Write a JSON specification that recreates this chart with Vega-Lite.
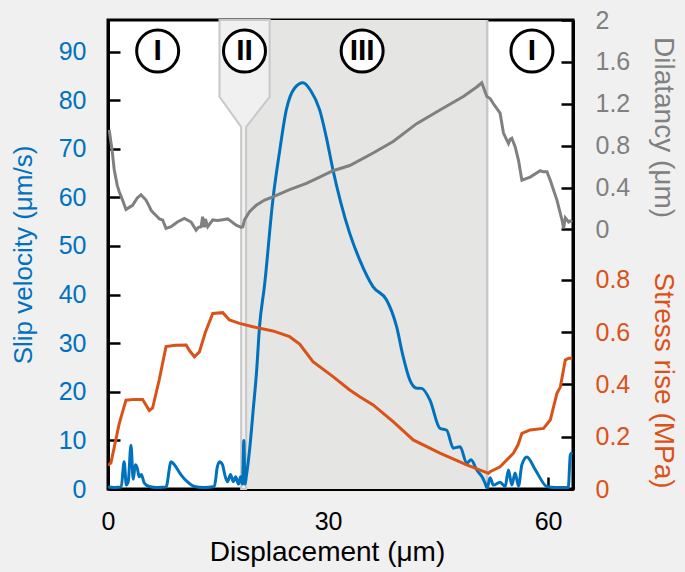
{
  "$schema": "https://vega.github.io/schema/vega-lite/v6.json",
  "width": 465,
  "height": 469,
  "autosize": {"type": "none"},
  "padding": {"left": 108, "top": 20, "right": 112, "bottom": 83},
  "background": "#f0f0f0",
  "config": {
    "view": {"stroke": "black", "strokeWidth": 3, "fill": "white"},
    "font": "Liberation Sans",
    "axis": {
      "labelFont": "Liberation Sans",
      "labelFontSize": 25,
      "titleFont": "Liberation Sans",
      "titleFontSize": 26,
      "titleFontWeight": "normal",
      "tickSize": -12,
      "tickWidth": 2.5,
      "tickColor": "black",
      "domainColor": "black",
      "domainWidth": 3,
      "labelPadding": 34,
      "labelFlush": false,
      "labelOverlap": false,
      "grid": false,
      "zindex": 1
    }
  },
  "datasets": {
    "vel": [
      {"d": 0.0, "v": 0.4}, {"d": 0.85, "v": 0.3}, {"d": 1.8, "v": 0.4}, {"d": 2.2, "v": 5.6}, {"d": 2.5, "v": 0.8},
      {"d": 2.76, "v": 1.5}, {"d": 3.13, "v": 9.0}, {"d": 3.44, "v": 2.0}, {"d": 3.72, "v": 5.0}, {"d": 3.99, "v": 4.3},
      {"d": 4.26, "v": 2.5}, {"d": 4.54, "v": 3.0}, {"d": 4.95, "v": 1.2}, {"d": 5.63, "v": 0.5}, {"d": 6.72, "v": 0.3},
      {"d": 7.91, "v": 0.4}, {"d": 8.6, "v": 5.6}, {"d": 9.05, "v": 5.0}, {"d": 9.96, "v": 2.9}, {"d": 10.8, "v": 1.5},
      {"d": 11.8, "v": 0.5}, {"d": 13.1, "v": 0.3}, {"d": 14.5, "v": 0.5}, {"d": 14.9, "v": 4.5}, {"d": 15.2, "v": 5.6},
      {"d": 15.6, "v": 5.0}, {"d": 16.0, "v": 2.5}, {"d": 16.3, "v": 1.5}, {"d": 16.7, "v": 3.0}, {"d": 17.1, "v": 1.5},
      {"d": 17.4, "v": 2.5}, {"d": 17.8, "v": 1.0}, {"d": 18.07, "v": 2.5}, {"d": 18.34, "v": 1.0}, {"d": 18.52, "v": 10.0},
      {"d": 18.68, "v": 1.0}, {"d": 18.85, "v": 2.5}, {"d": 19.3, "v": 8.0}, {"d": 19.84, "v": 17.0}, {"d": 20.25, "v": 24.0},
      {"d": 20.66, "v": 33.4}, {"d": 21.35, "v": 42.0}, {"d": 22.48, "v": 59.5}, {"d": 23.4, "v": 69.5}, {"d": 24.31, "v": 78.0},
      {"d": 25.45, "v": 82.5}, {"d": 26.58, "v": 83.6}, {"d": 27.63, "v": 82.0}, {"d": 28.86, "v": 78.0}, {"d": 29.82, "v": 72.0},
      {"d": 30.68, "v": 65.6}, {"d": 31.73, "v": 59.0}, {"d": 32.96, "v": 52.6}, {"d": 34.33, "v": 47.1}, {"d": 36.15, "v": 41.6},
      {"d": 37.98, "v": 38.9}, {"d": 38.7, "v": 36.5}, {"d": 39.35, "v": 33.4}, {"d": 40.2, "v": 27.5}, {"d": 41.16, "v": 22.4},
      {"d": 41.98, "v": 20.8}, {"d": 42.76, "v": 20.7}, {"d": 43.9, "v": 18.3}, {"d": 45.25, "v": 12.5}, {"d": 46.18, "v": 12.1},
      {"d": 47.08, "v": 8.4}, {"d": 48.0, "v": 8.7}, {"d": 48.91, "v": 5.3}, {"d": 49.5, "v": 6.0}, {"d": 50.28, "v": 3.9},
      {"d": 51.0, "v": 2.5}, {"d": 51.41, "v": 1.2}, {"d": 51.69, "v": 0.2}, {"d": 52.1, "v": 2.3}, {"d": 52.55, "v": 0.8},
      {"d": 53.46, "v": 1.4}, {"d": 54.15, "v": 0.5}, {"d": 54.6, "v": 3.9}, {"d": 55.06, "v": 0.8}, {"d": 55.51, "v": 3.3},
      {"d": 55.97, "v": 0.6}, {"d": 56.43, "v": 5.0}, {"d": 57.11, "v": 6.6}, {"d": 58.25, "v": 4.0}, {"d": 59.85, "v": 0.5},
      {"d": 61.0, "v": 0.3}, {"d": 62.76, "v": 0.3}, {"d": 63.03, "v": 7.0}, {"d": 63.3, "v": 7.5}
    ],
    "dil": [
      {"d": 0.16, "dil": 0.95}, {"d": 0.57, "dil": 0.75}, {"d": 0.85, "dil": 0.57}, {"d": 1.26, "dil": 0.42}, {"d": 1.53, "dil": 0.36},
      {"d": 1.98, "dil": 0.28}, {"d": 2.45, "dil": 0.19}, {"d": 2.9, "dil": 0.21}, {"d": 3.35, "dil": 0.23}, {"d": 3.99, "dil": 0.30},
      {"d": 4.5, "dil": 0.33}, {"d": 5.18, "dil": 0.28}, {"d": 5.63, "dil": 0.22}, {"d": 5.9, "dil": 0.18}, {"d": 6.31, "dil": 0.15},
      {"d": 6.72, "dil": 0.12}, {"d": 7.0, "dil": 0.10}, {"d": 7.45, "dil": 0.09}, {"d": 7.91, "dil": 0.01}, {"d": 8.6, "dil": 0.025},
      {"d": 9.46, "dil": 0.07}, {"d": 10.41, "dil": 0.105}, {"d": 11.33, "dil": 0.07}, {"d": 12.01, "dil": -0.007}, {"d": 12.33, "dil": 0.02},
      {"d": 12.7, "dil": 0.025}, {"d": 12.9, "dil": 0.12}, {"d": 13.15, "dil": 0.02}, {"d": 13.28, "dil": 0.1}, {"d": 13.6, "dil": 0.025},
      {"d": 14.28, "dil": 0.09}, {"d": 14.92, "dil": 0.085}, {"d": 15.43, "dil": 0.09}, {"d": 16.33, "dil": 0.1}, {"d": 17.48, "dil": 0.04},
      {"d": 18.16, "dil": 0.02}, {"d": 18.38, "dil": 0.025}, {"d": 18.61, "dil": 0.09}, {"d": 19.3, "dil": 0.17}, {"d": 20.21, "dil": 0.23},
      {"d": 21.35, "dil": 0.28}, {"d": 22.48, "dil": 0.31}, {"d": 24.76, "dil": 0.38}, {"d": 27.05, "dil": 0.44}, {"d": 28.86, "dil": 0.50},
      {"d": 30.68, "dil": 0.56}, {"d": 32.96, "dil": 0.61}, {"d": 36.15, "dil": 0.73}, {"d": 38.88, "dil": 0.84}, {"d": 42.08, "dil": 1.01},
      {"d": 45.26, "dil": 1.14}, {"d": 48.45, "dil": 1.27}, {"d": 50.28, "dil": 1.36}, {"d": 50.96, "dil": 1.40}, {"d": 51.65, "dil": 1.27},
      {"d": 52.1, "dil": 1.25}, {"d": 52.55, "dil": 1.20}, {"d": 53.46, "dil": 1.11}, {"d": 53.92, "dil": 0.92}, {"d": 54.6, "dil": 0.82},
      {"d": 54.83, "dil": 0.86}, {"d": 55.06, "dil": 0.87}, {"d": 55.51, "dil": 0.79}, {"d": 55.97, "dil": 0.66}, {"d": 56.43, "dil": 0.47},
      {"d": 57.56, "dil": 0.50}, {"d": 58.93, "dil": 0.56}, {"d": 59.34, "dil": 0.55}, {"d": 59.85, "dil": 0.55}, {"d": 60.3, "dil": 0.47},
      {"d": 61.21, "dil": 0.28}, {"d": 61.9, "dil": 0.09}, {"d": 62.12, "dil": 0.01}, {"d": 62.35, "dil": 0.11}, {"d": 62.8, "dil": 0.07},
      {"d": 63.03, "dil": 0.08}, {"d": 63.3, "dil": 0.07}
    ],
    "stress": [
      {"d": 0.0, "s": 0.09}, {"d": 0.4, "s": 0.10}, {"d": 0.85, "s": 0.16}, {"d": 1.53, "s": 0.25}, {"d": 2.45, "s": 0.34},
      {"d": 3.58, "s": 0.343}, {"d": 4.72, "s": 0.343}, {"d": 5.63, "s": 0.30}, {"d": 6.08, "s": 0.31}, {"d": 7.0, "s": 0.42},
      {"d": 7.91, "s": 0.545}, {"d": 9.18, "s": 0.55}, {"d": 10.65, "s": 0.551}, {"d": 11.1, "s": 0.53}, {"d": 11.78, "s": 0.506},
      {"d": 12.46, "s": 0.525}, {"d": 13.28, "s": 0.60}, {"d": 14.28, "s": 0.672}, {"d": 15.65, "s": 0.675}, {"d": 16.56, "s": 0.647},
      {"d": 17.93, "s": 0.634}, {"d": 19.75, "s": 0.621}, {"d": 22.48, "s": 0.605}, {"d": 24.76, "s": 0.583}, {"d": 26.13, "s": 0.555},
      {"d": 27.95, "s": 0.487}, {"d": 30.68, "s": 0.43}, {"d": 32.96, "s": 0.379}, {"d": 34.33, "s": 0.353}, {"d": 36.15, "s": 0.322},
      {"d": 38.88, "s": 0.258}, {"d": 41.61, "s": 0.188}, {"d": 45.26, "s": 0.137}, {"d": 48.91, "s": 0.092}, {"d": 51.87, "s": 0.06},
      {"d": 52.1, "s": 0.066}, {"d": 53.46, "s": 0.085}, {"d": 55.28, "s": 0.137}, {"d": 55.92, "s": 0.17}, {"d": 56.43, "s": 0.213},
      {"d": 57.56, "s": 0.226}, {"d": 59.38, "s": 0.232}, {"d": 60.3, "s": 0.264}, {"d": 61.21, "s": 0.366}, {"d": 61.67, "s": 0.39},
      {"d": 62.35, "s": 0.494}, {"d": 62.8, "s": 0.50}, {"d": 63.3, "s": 0.50}
    ],
    "funnel": [
      {"v": 0, "a": 18.15, "b": 18.83},
      {"v": 74.5, "a": 18.15, "b": 18.83},
      {"v": 80.7, "a": 15.2, "b": 22.04},
      {"v": 96.5, "a": 15.2, "b": 22.04}
    ],
    "phases": [
      {"d": 6.77, "v": 90.1, "lab": "I"},
      {"d": 18.61, "v": 90.1, "lab": "II"},
      {"d": 34.65, "v": 90.1, "lab": "III"},
      {"d": 57.8, "v": 90.1, "lab": "I"}
    ]
  },
  "layer": [
    {
      "layer": [
        {
          "data": {"values": [{"start": 18.83, "end": 51.7}]},
          "mark": {"type": "rect", "fill": "#e5e5e3"},
          "encoding": {
            "x": {"field": "start", "type": "quantitative", "scale": {"domain": [0, 63.4], "nice": false, "zero": false},
                  "axis": {"orient": "bottom", "values": [0, 30, 60], "title": "Displacement (μm)", "titleFontSize": 28, "titlePadding": 4, "labelPadding": 32, "titleX": 219, "titleColor": "black", "labelColor": "black"}},
            "x2": {"field": "end"}
          }
        },
        {
          "data": {"values": [{"pos": 51.7}]},
          "mark": {"type": "rule", "color": "#c8c8c8", "strokeWidth": 2.5},
          "encoding": {"x": {"field": "pos", "type": "quantitative"}}
        },
        {
          "data": {"name": "funnel"},
          "mark": {"type": "area", "orient": "horizontal", "fill": "#f0f0f0", "stroke": "#c8c8c8", "strokeWidth": 2},
          "encoding": {
            "y": {"field": "v", "type": "quantitative"},
            "x": {"field": "a", "type": "quantitative"},
            "x2": {"field": "b"}
          }
        },
        {
          "data": {"name": "vel"},
          "mark": {"type": "line", "color": "#0072BD", "strokeWidth": 3, "clip": true, "interpolate": "monotone"},
          "encoding": {
            "x": {"field": "d", "type": "quantitative"},
            "y": {"field": "v", "type": "quantitative", "scale": {"domain": [0, 96.5], "nice": false},
                  "axis": {"orient": "left", "values": [0, 10, 20, 30, 40, 50, 60, 70, 80, 90], "title": "Slip velocity (μm/s)",
                           "labelColor": "#0072BD", "titleColor": "#0072BD", "titlePadding": 22}}
          }
        },
        {
          "data": {"name": "phases"},
          "mark": {"type": "point", "shape": "circle", "size": 1764, "filled": true, "fill": "white", "stroke": "black", "strokeWidth": 3, "opacity": 1},
          "encoding": {
            "x": {"field": "d", "type": "quantitative"},
            "y": {"field": "v", "type": "quantitative"}
          }
        },
        {
          "data": {"name": "phases"},
          "mark": {"type": "text", "fontSize": 30, "fontWeight": "bold", "font": "Liberation Sans", "color": "black", "baseline": "middle", "align": "center"},
          "encoding": {
            "x": {"field": "d", "type": "quantitative"},
            "y": {"field": "v", "type": "quantitative"},
            "text": {"field": "lab"}
          }
        }
      ]
    },
    {
      "data": {"name": "dil"},
      "mark": {"type": "line", "color": "#808080", "strokeWidth": 3, "clip": true},
      "encoding": {
        "x": {"field": "d", "type": "quantitative"},
        "y": {"field": "dil", "type": "quantitative", "scale": {"domain": [-2.48, 2], "nice": false, "zero": false},
              "axis": {"orient": "right", "values": [0, 0.4, 0.8, 1.2, 1.6, 2], "format": ".2~g", "title": "Dilatancy (μm)",
                       "labelColor": "#808080", "titleColor": "#808080", "titleFontSize": 28, "titleY": 107, "titleX": 75}}
      }
    },
    {
      "data": {"name": "stress"},
      "mark": {"type": "line", "color": "#D95319", "strokeWidth": 3, "clip": true},
      "encoding": {
        "x": {"field": "d", "type": "quantitative"},
        "y": {"field": "s", "type": "quantitative", "scale": {"domain": [0, 1.795], "nice": false},
              "axis": {"orient": "right", "values": [0, 0.2, 0.4, 0.6, 0.8], "format": ".2~g", "title": "Stress rise (MPa)",
                       "labelColor": "#D95319", "titleColor": "#D95319", "titleFontSize": 28, "titleY": 360, "titleX": 75}}
      }
    }
  ],
  "resolve": {"scale": {"y": "independent"}}
}
